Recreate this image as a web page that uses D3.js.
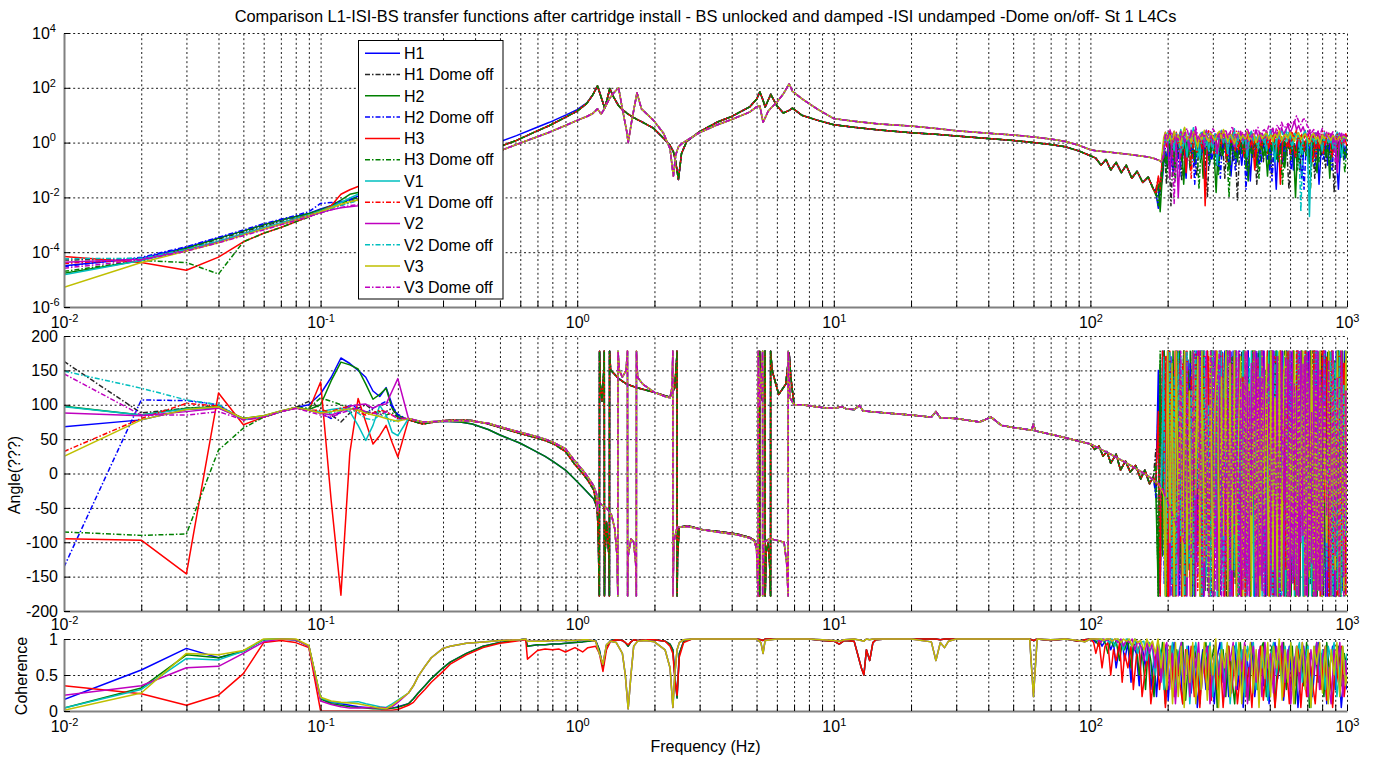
<!DOCTYPE html>
<html>
<head>
<meta charset="utf-8">
<script src="https://cdn.jsdelivr.net/npm/d3@7"></script>
<style>
  body { margin: 0; background: #fff; }
  svg text { font-family: "Liberation Sans", Arial, sans-serif; }
</style>
</head>
<body>
<svg id="chart" width="1378" height="762"></svg>
<script>
// ---------------- series definitions ----------------
const seriesNames  = ["H1","H1 Dome off","H2","H2 Dome off","H3","H3 Dome off","V1","V1 Dome off","V2","V2 Dome off","V3","V3 Dome off"];
const seriesColors = ["#0000ff","#262626","#008000","#0000ff","#ff0000","#008000","#00bfbf","#ff0000","#bf00bf","#00bfbf","#bfbf00","#bf00bf"];
const seriesDomeOff = [false,true,false,true,false,true,false,true,false,true,false,true];

// ---------------- low-frequency points (0.01 .. 0.20 Hz) ----------------
const freqLow = [0.01,0.02,0.03,0.04,0.05,0.06,0.07,0.08,0.09,0.10,0.11,0.12,0.13,0.14,0.15,0.16,0.17,0.18,0.19,0.20];

const magLowH1    = [3.2e-5,6e-5,1.5e-4,3.3e-4,6e-4,1e-3,1.5e-3,2e-3,2.6e-3,3.8e-3,5e-3,6.5e-3,8.5e-3,1.1e-2,1.4e-2,1.8e-2,2.3e-2,3e-2,3.8e-2,4.7e-2];
const magLowH1off = [5.2e-5,5.5e-5,1.3e-4,3e-4,5.5e-4,9e-4,1.3e-3,1.8e-3,2.3e-3,3e-3,4e-3,5.2e-3,6.8e-3,8.8e-3,1.1e-2,1.4e-2,1.7e-2,2.1e-2,2.6e-2,3.3e-2];
const magLowH2    = [1.7e-5,5e-5,1.4e-4,3.2e-4,6e-4,1e-3,1.5e-3,2e-3,2.6e-3,3.5e-3,5e-3,8e-3,1.3e-2,1.5e-2,1.7e-2,1.95e-2,2.2e-2,2.6e-2,3.1e-2,3.7e-2];
const magLowH2off = [3e-5,6.5e-5,1.6e-4,3.5e-4,6.5e-4,1.1e-3,1.6e-3,2.2e-3,3e-3,6e-3,6.5e-3,7e-3,8e-3,9.5e-3,1.15e-2,1.4e-2,1.7e-2,2.1e-2,2.6e-2,3.3e-2];
const magLowH3    = [6.9e-5,4.2e-5,2.2e-5,6.6e-5,2.4e-4,4.9e-4,8e-4,1.3e-3,2e-3,3e-3,5e-3,1.3e-2,1.9e-2,2.5e-2,2.8e-2,3e-2,3.2e-2,3.4e-2,3.7e-2,4e-2];
const magLowH3off = [2e-5,5e-5,4.2e-5,1.6e-5,2.4e-4,4.9e-4,8e-4,1.3e-3,1.9e-3,3e-3,4.5e-3,6e-3,8e-3,1e-2,1.2e-2,1.5e-2,1.8e-2,2.2e-2,2.7e-2,3.3e-2];
const magLowV1    = [1.5e-5,5e-5,1.2e-4,2.5e-4,4.8e-4,8e-4,1.2e-3,1.7e-3,2.3e-3,3.2e-3,4.5e-3,6.5e-3,9.5e-3,1.3e-2,1.45e-2,1.6e-2,1.8e-2,2e-2,2.3e-2,2.6e-2];
const magLowV1off = [3.9e-5,5.5e-5,1.2e-4,2.5e-4,4.5e-4,7.5e-4,1.1e-3,1.6e-3,2.2e-3,3e-3,4e-3,5.2e-3,6.5e-3,8e-3,9.5e-3,1.1e-2,1.3e-2,1.6e-2,1.9e-2,2.3e-2];
const magLowV2    = [4.3e-5,5.5e-5,1.2e-4,2.3e-4,4.3e-4,7e-4,1.05e-3,1.5e-3,2e-3,2.8e-3,3.5e-3,4.2e-3,4.6e-3,5e-3,6e-3,7.5e-3,9.5e-3,1.2e-2,1.6e-2,2e-2];
const magLowV2off = [5.8e-5,6e-5,1.25e-4,2.6e-4,4.6e-4,7.5e-4,1.1e-3,1.55e-3,2.1e-3,2.9e-3,3.9e-3,5e-3,6.3e-3,7.8e-3,9.5e-3,1.15e-2,1.4e-2,1.7e-2,2e-2,2.4e-2];
const magLowV3    = [5.2e-6,4.2e-5,1.1e-4,2.2e-4,4.2e-4,7e-4,1.05e-3,1.5e-3,2.1e-3,3e-3,4.2e-3,5.6e-3,7e-3,8e-3,9e-3,1.05e-2,1.25e-2,1.5e-2,1.8e-2,2.2e-2];
const magLowV3off = [2.6e-5,5.2e-5,1.1e-4,2.2e-4,4e-4,6.5e-4,1e-3,1.45e-3,2e-3,2.7e-3,3.5e-3,4.3e-3,5e-3,5.5e-3,6.5e-3,8e-3,1e-2,1.25e-2,1.6e-2,2e-2];

const phLowH1    = [68,78,93,96,80,83,90,96,100,116,140,168,160,150,140,120,112,125,100,82];
const phLowH1off = [163,88,95,98,79,83,90,96,105,95,85,75,88,95,100,92,85,90,95,80];
const phLowH2    = [98,85,95,97,80,84,91,96,93,100,135,162,158,152,130,108,115,124,95,85];
const phLowH2off = [-136,107,106,100,78,82,90,96,92,88,80,90,100,95,88,95,100,105,98,86];
const phLowH3    = [-95,-97,-146,117,71,82,90,96,92,133,-40,-177,30,109,75,43,55,70,45,24];
const phLowH3off = [-85,-90,-88,34,66,82,90,96,95,110,105,100,95,92,90,88,90,85,88,82];
const phLowV1    = [97,85,94,96,79,83,90,96,92,90,93,95,90,70,48,70,99,85,60,55];
const phLowV1off = [32,80,102,98,78,82,90,95,92,92,90,95,98,90,85,88,92,90,85,80];
const phLowV2    = [88,84,90,95,79,83,90,95,92,88,85,90,98,100,101,95,100,101,120,138];
const phLowV2off = [149,124,107,100,78,83,90,96,92,90,88,92,95,88,80,78,85,82,75,78];
const phLowV3    = [25,78,93,97,80,84,91,96,92,88,90,92,94,92,88,85,83,80,78,76];
const phLowV3off = [145,85,85,90,78,82,90,95,90,85,82,88,92,95,90,88,86,90,85,80];

const cohLowH1 = [0.16,0.57,0.87,0.74,0.83,0.99,1.0,0.99,0.9,0.17,0.12,0.1,0.08,0.06,0.05,0.04,0.03,0.03,0.04,0.06];
const cohLowH2 = [0.04,0.32,0.78,0.74,0.83,0.99,1.0,0.99,0.9,0.17,0.1,0.08,0.06,0.05,0.04,0.03,0.03,0.03,0.04,0.05];
const cohLowH3 = [0.35,0.24,0.08,0.22,0.52,0.95,0.98,0.95,0.88,0.0,0.0,0.0,0.0,0.0,0.0,0.0,0.0,0.01,0.01,0.02];
const cohLowV1 = [0.04,0.3,0.73,0.71,0.83,0.99,1.0,0.99,0.9,0.18,0.13,0.11,0.12,0.13,0.1,0.08,0.06,0.05,0.1,0.15];
const cohLowV2 = [0.22,0.35,0.6,0.62,0.8,0.96,1.0,0.99,0.9,0.14,0.09,0.06,0.04,0.04,0.05,0.04,0.05,0.04,0.06,0.12];
const cohLowV3 = [0.01,0.25,0.8,0.78,0.84,1.0,1.0,1.0,0.91,0.19,0.14,0.12,0.11,0.1,0.08,0.06,0.04,0.03,0.08,0.14];

// ---------------- magnitude, resonance region (0.22 .. 176 Hz) ----------------
const magMidFreq = [0.22,0.25,0.3,0.35,0.4,0.45,0.5,0.58,0.675,0.78,0.91,1.0,1.09,1.15,1.2,1.24,1.28,1.31,1.34,1.38,
  1.45,1.5,1.56,1.58,1.63,1.71,1.78,1.98,2.17,2.3,2.37,2.42,2.48,2.55,2.67,3.0,3.5,4.0,4.7,5.0,
  5.15,5.3,5.4,5.55,5.68,6.0,6.36,6.7,6.9,7.5,8.6,10,12,15,20,25,30,40,50,60,70,80,90,100];
const magMidH = [0.045,0.07,0.13,0.21,0.3,0.48,0.72,1.2,2.3,4.2,8.9,14,27,55,117,45,18,40,95,50,
  22,16,12,11,9,7,5.8,3.4,1.45,0.8,0.47,0.2,0.045,0.4,1.1,2.5,5.5,9,20,38,
  70,35,20,35,58,22,12,15,18,10,6.6,4.5,3.6,2.9,2.3,2.0,1.75,1.4,1.2,1.0,0.85,0.7,0.5,0.33];
const magMidH1Head = [0.06,0.09,0.17,0.28,0.45,0.7,1.07,1.8,3.2,5.5,10.5,16,28];
const magMidV = [0.03,0.045,0.08,0.13,0.2,0.32,0.5,0.85,1.45,2.4,4.4,6.5,9,11.5,17,11,18,28,42,62,
  100,17,2.5,1.0,6,66,17,6.6,2.2,0.6,0.06,0.35,0.7,0.9,1.2,2.3,4.4,7,13,20,
  22,5.5,8,14,18,30,60,140,75,40,17,7.5,6,4.8,4,3.3,2.7,2.2,1.9,1.6,1.35,1.1,0.8,0.55];

const magEndFreq = [105,110,115,120,126,132,138,145,152,160,168,176];
const magEndH = [0.27,0.15,0.24,0.1,0.19,0.08,0.15,0.05,0.09,0.035,0.055,0.02];
const magEndV = [0.5,0.48,0.46,0.44,0.42,0.4,0.38,0.36,0.34,0.32,0.3,0.27];

// ---------------- phase, resonance region ----------------
const phMidFreqH = [0.22,0.25,0.3,0.35,0.39,0.45,0.5,0.6,0.675,0.75,0.81,0.9,0.97,1.05,1.1,1.16,
  1.19,1.2,1.21,1.215,1.22,1.222,1.23,1.25,1.27,1.275,1.277,1.28,1.3,1.33,1.335,1.337,1.35,1.37,1.45,1.56,1.7,2.0,2.3,2.4,
  2.44,2.45,2.452,2.46,2.5,2.7,3.1,3.5,4.2,4.7,4.9,5.0,5.1,5.14,5.142,5.2,5.3,5.38,5.4,5.402,
  5.45,5.55,5.62,5.67,5.672,5.75,6.1,6.5,6.7,6.8,7.0];
const phMidH = [78,72,77,78,77,72,67,58,53,48,43,32,15,0,-10,-24,
  -48,-60,-100,-150,-178,178,130,105,150,178,-178,-130,-70,-120,-178,178,150,148,138,130,125,118,111,125,
  165,178,-178,-120,-78,-76,-82,-84,-88,-93,-97,-105,-140,-178,178,110,105,150,178,-178,
  -115,-100,-130,-178,178,150,115,130,175,140,100];
const phMidH12Head = [78,74,76,75,72,64,56,44,34,25,17,5,-7,-20,-28,-37];

const phMidFreqV = [0.22,0.25,0.3,0.35,0.39,0.45,0.5,0.6,0.675,0.75,0.81,0.9,0.97,1.05,1.1,1.16,
  1.19,1.2,1.21,1.24,1.3,1.36,1.4,1.43,1.44,1.442,1.46,1.5,1.55,1.57,1.572,1.58,1.62,1.66,1.69,1.7,1.702,1.72,1.8,2.0,
  2.2,2.3,2.34,2.36,2.362,2.38,2.45,2.7,3.1,3.5,4.2,4.7,4.9,5.0,5.07,5.072,5.15,5.25,5.28,5.282,
  5.33,5.6,6.0,6.4,6.55,6.64,6.642,6.75,7.0];
const phMidV = [80,75,76,77,76,73,68,60,55,50,45,36,20,5,-5,-18,
  -30,-55,-40,-45,-50,-60,-80,-120,-178,178,150,140,150,178,-178,-120,-95,-100,-130,-178,178,140,130,118,
  112,110,125,178,-178,-100,-78,-77,-82,-85,-89,-94,-98,-110,-178,178,100,160,178,-178,
  -100,-95,-97,-100,-130,-178,178,110,100];

const phTailFreq = [7.5,9,10,10.8,11.2,12,12.6,13,14,16,20,24,25,26,30,37,41,45,50,59,60,61,70,80,90,100];
const phTail     = [100,96,95,97,94,93,99,91,90,88,85,82,90,81,80,75,82,70,67,63,72,62,57,52,47,43];

const phEndFreqH = [104,108,112,116,120,126,131,137,143,150,157,163,170,176];
const phEndH     = [35,40,25,32,15,28,5,18,2,12,-8,5,-15,-5];
const phEndFreqV = [110,120,131,143,157,170,176];
const phEndV     = [35,28,20,12,3,-5,-10];

// ---------------- 180 .. 1000 Hz bins (H sensors and V sensors) ----------------
const fHiH = [180,184,187,191,194,198,202,206,210,214,218,223,227,231,236,240,245,250,255,260,
  265,270,275,280,286,291,297,303,309,315,321,327,334,340,347,353,360,367,374,382,
  389,397,404,412,420,428,437,445,454,463,472,481,490,500,510,519,530,540,550,561,
  572,583,594,606,618,630,642,655,667,680,693,707,721,735,749,764,778,794,809,825,
  841,857,874,891,908,926,944,962,981,1000];
const fHiV = [182,186,189,193,196,200,204,208,212,216,220,225,229,233,238,243,247,252,257,262,
  267,272,278,283,289,294,300,306,312,318,324,330,337,343,350,357,364,371,378,385,
  393,401,408,416,424,433,441,450,458,467,476,486,495,505,514,524,535,545,556,566,
  577,589,600,612,624,636,648,661,674,687,700,714,728,742,756,771,786,801,817,833,
  849,865,882,899,917,935,953,971,990,1000];

// magnitude, 180 .. 1000 Hz
const magHiH1 = [.015,.004,.02,.05,.3,.15,1.2,.6,.08,.9, .4,1.5,.2,.7,.05,1.1,.5,.9,.15,.6,
  1.3,.3,.8,.03,.7,1.0,.25,.5,1.2,.1, .8,.4,1.4,.2,.9,.06,.6,1.1,.35,.7,
  .15,1.0,.5,1.3,.04,.8,.3,1.2,.6,.2, .9,.45,1.5,.1,.7,1.1,.02,.8,.4,1.3,
  .25,.9,.6,1.6,.1,.7,1.2,.3,.05,.9, .5,1.4,.2,.8,.6,1.1,.03,.7,.4,1.0,
  .15,.9,.5,1.2,.3,.02,.7,1.0,.25,.6];
const magHiH1off = [.02,.05,.008,.1,.6,.03,.9,.005,.4,1.2, .2,.8,.04,1.5,.3,.7,.1,1.0,.5,.06,
  .9,.25,1.3,.4,.01,.8,.5,1.1,.15,.7, .3,1.2,.05,.9,.5,1.4,.2,.6,.008,.8,
  1.0,.35,.7,.1,1.3,.5,.9,.03,.6,1.1, .2,.8,.4,1.5,.06,.7,1.0,.3,.9,.15,
  1.2,.5,.02,.8,1.4,.3,.7,.1,1.0,.45, .9,.2,1.3,.6,.05,.8,1.1,.35,.7,.12,
  1.0,.4,.8,.015,.6,1.2,.3,.9,.5,.7];
const magHiH2 = [.012,.03,.003,.08,.5,.2,1.6,.4,.9,.1, 1.3,.5,.8,.03,1.1,.3,1.8,.6,.2,1.0,
  .4,.9,.05,1.4,.7,.25,1.2,.5,.015,.8, 1.5,.35,.9,.6,.1,1.3,.5,.8,.2,1.1,
  .6,1.7,.3,.04,.9,.5,1.2,.15,.8,1.4, .3,.7,.06,1.1,.5,1.6,.25,.9,.4,1.2,
  .12,.8,1.3,.45,.9,.01,.7,1.5,.3,.85, 1.1,.2,.6,1.3,.4,.08,1.0,.55,1.4,.3,
  .8,.05,1.2,.45,.9,.2,1.1,.6,.35,.9];
const magHiH2off = [.018,.01,.04,.2,1.0,.3,.7,.12,1.3,.5, .9,.06,.6,1.4,.25,.8,.4,1.1,.03,.7,
  1.2,.35,.9,.5,1.5,.15,.6,1.0,.3,.8, .05,1.1,.45,.9,.2,1.3,.6,.1,.8,1.2,
  .4,.9,.02,.7,1.4,.3,1.0,.55,.15,1.1, .7,1.3,.25,.85,.04,.6,1.2,.4,.9,.2,
  1.0,.5,1.4,.1,.75,.3,1.1,.6,.9,.02, .7,1.2,.35,.8,.15,1.0,.5,1.3,.25,.7,
  .9,.4,.1,1.1,.6,.8,.3,1.2,.5,.9];
const magHiH3 = [.014,.06,.02,.4,1.5,.7,2.5,1.0,.3,1.8, .9,2.2,.5,1.4,.08,1.1,.6,2.0,.9,.4,
  1.6,.8,2.4,.005,1.2,.7,1.9,.4,1.1,2.3, .6,1.5,.9,.2,1.7,1.0,2.6,.5,1.3,.8,
  1.9,.3,1.1,2.1,.7,1.4,.1,1.0,1.8,.6, 1.3,2.0,.4,1.1,.8,2.2,.5,1.5,.03,1.0,
  1.7,.6,1.2,2.4,.9,.3,1.6,1.0,2.0,.5, 1.3,.8,1.9,.2,1.1,1.5,.6,1.2,.4,1.6,
  .9,1.4,.3,1.0,1.7,.5,1.2,.8,1.5,.7];
const magHiH3off = [.016,.005,.03,.15,.7,.08,1.2,.3,.9,.04, .6,1.1,.2,.8,.5,1.4,.1,.9,.35,1.2,
  .02,.7,1.0,.4,1.3,.15,.8,.5,1.1,.06, .9,.3,1.2,.6,.01,.8,1.0,.25,.7,1.3,
  .4,.9,.1,1.1,.6,.3,1.4,.5,.05,.8, 1.2,.35,.9,.15,1.0,.6,1.3,.2,.7,.03,
  1.1,.5,.8,.25,1.4,.6,.1,.9,.4,1.2, .3,.8,.02,1.0,.5,1.3,.2,.7,.9,.4,
  1.1,.15,.8,.5,1.2,.3,.9,.6,.08,.8];
const magHiV1 = [.24,.22,.2,.5,1.8,.9,2.6,1.2,.5,2.0, 1.0,3.0,.6,1.6,.3,2.2,1.1,3.5,.8,1.5,
  .25,1.9,1.2,2.8,.5,1.4,.9,2.1,.15,1.6, 2.4,1.0,1.7,.4,2.0,1.3,3.2,.7,1.5,2.3,
  .9,1.8,.3,1.2,2.6,1.0,1.6,.6,2.2,1.3, 1.9,.5,1.4,2.7,1.0,.2,1.7,2.4,1.1,1.5,
  3.0,1.2,2.0,.8,1.6,2.5,1.3,.4,1.9,2.8, 1.2,.002,1.5,2.1,.9,1.8,1.3,.5,2.3,1.4,
  1.0,1.9,.6,1.6,2.4,1.1,.3,1.5,1.9,1.1];
const magHiV1off = [.24,.22,.2,.8,2.2,1.3,2.8,.7,1.7,2.4, 1.1,.3,1.9,2.6,1.2,1.6,.05,1.4,2.3,1.0,
  1.8,.6,2.1,1.3,2.7,.9,1.5,2.0,.4,1.7, 2.5,1.1,1.9,.7,2.2,1.4,1.0,2.6,.5,1.6,
  2.0,1.2,.8,2.4,1.5,1.9,.3,1.3,2.1,1.0, 1.7,2.5,.6,1.4,2.0,1.1,2.8,.9,1.6,2.2,
  1.3,1.9,.4,2.3,1.5,3.0,1.1,1.8,.7,2.1, 1.4,2.4,1.0,1.7,.3,2.0,1.3,2.6,.8,1.5,
  2.2,1.1,1.8,.5,2.0,1.3,1.7,1.0,2.1,1.3];
const magHiV2 = [.24,.22,.2,.3,2.4,1.1,.05,1.8,2.6,.9, .01,1.5,2.2,1.0,1.7,.6,2.8,1.3,3.2,1.0,
  1.6,2.3,.7,1.9,1.2,2.5,.9,1.6,.4,2.1, 1.3,2.8,1.0,1.8,2.4,1.2,.7,2.0,1.5,2.6,
  1.1,1.9,.5,1.6,2.3,1.3,2.9,1.7,1.0,2.2, 1.5,2.7,1.2,1.9,3.1,1.6,2.4,1.3,3.6,2.0,
  2.8,4.5,2.2,3.5,6.0,3.0,4.2,2.5,3.8,2.2, 1.8,2.9,1.4,2.3,1.7,2.6,1.2,2.0,1.5,2.4,
  1.3,2.1,.9,1.7,.08,1.4,2.2,1.1,1.6,1.4];
const magHiV2off = [.24,.22,.2,.6,1.9,2.5,1.0,1.7,.6,2.2, 1.3,.4,1.9,3.5,1.1,1.6,.7,2.4,1.0,.3,
  1.8,2.7,1.2,.8,2.1,1.5,.5,2.3,1.3,1.9, 2.8,1.0,1.6,.6,2.2,1.3,1.9,.9,2.5,1.4,
  1.1,2.0,.4,1.7,2.6,1.2,1.8,.7,2.3,1.5, 1.0,2.1,1.6,2.9,1.2,.8,2.0,1.4,2.6,1.7,
  1.1,2.4,1.6,.6,2.2,1.3,1.9,.003,1.5,2.6, 1.2,.8,1.9,1.1,2.3,1.4,.9,1.8,1.2,2.0,
  1.5,1.0,1.9,.5,1.6,2.2,1.1,1.7,1.3,1.5];
const magHiV3 = [.24,.22,.2,1.5,2.4,1.2,1.8,.9,2.6,1.4, 1.9,.8,2.2,3.6,1.3,1.7,1.0,2.5,1.4,.7,
  2.0,1.3,2.8,1.5,1.1,2.3,1.6,1.2,2.0,2.6, 1.4,3.0,1.7,1.1,2.2,1.5,.9,1.8,2.4,1.3,
  1.9,1.4,2.6,1.2,1.7,2.1,1.0,1.6,2.3,1.4, 1.8,2.5,1.3,1.9,1.1,2.2,1.5,2.7,1.2,1.7,
  2.0,1.4,2.4,1.6,1.1,1.9,2.3,1.3,1.7,2.1, 1.5,1.0,1.8,2.2,1.3,1.6,.9,1.9,1.4,2.0,
  1.6,1.2,1.9,1.4,1.1,1.7,1.3,1.8,1.5,1.4];
const magHiV3off = [.24,.22,.2,.4,2.2,1.4,3.0,1.7,.006,2.0, 1.2,2.6,1.5,1.9,3.3,1.3,2.4,1.6,3.8,1.8,
  1.3,2.2,1.5,2.8,1.9,1.4,3.2,2.4,1.6,2.0, 2.6,1.7,3.0,1.5,2.2,4.0,2.0,1.5,2.6,1.9,
  2.4,1.6,3.4,2.0,1.4,2.8,2.2,3.6,1.8,2.5, 3.0,2.2,4.0,2.6,3.4,2.0,4.5,3.0,5.5,3.5,
  3.8,5.0,4.2,6.0,5.5,9.5,6.0,4.5,7.0,7.5, 4.0,3.2,2.3,3.0,1.8,2.6,2.0,3.3,2.5,1.6,
  2.2,1.8,2.5,.2,1.6,2.2,1.4,2.0,1.7,1.4];

// phase, 180 .. 1000 Hz
const phHiH1 = [-20,150,-175,60,178,-130,20,170,-178,110, -60,175,-150,90,-178,165,-20,140,-175,178,
  -100,50,178,-165,130,-178,75,-40,172,-178, 160,-120,178,-60,120,-178,178,-150,40,165,
  -178,100,-90,178,-170,150,-178,30,175,-130, 178,-178,80,160,-100,178,-178,140,-20,170,
  -160,178,-178,60,150,-140,178,-178,110,-70, 175,-178,178,-110,130,-178,90,170,-150,178,
  -178,20,160,-178,178,-60,140,-170,178,-120];
const phHiH1off = [35,-178,150,-90,178,-170,178,-40,130,-178, 178,-120,60,175,-178,100,-150,178,-178,160,
  -30,178,-178,120,-170,70,178,-140,165,-178, 178,-90,140,-178,178,-10,170,-160,110,-178,
  178,-130,80,178,-178,150,-60,175,-178,178, -110,120,-178,178,-170,40,160,-178,178,-140,
  100,178,-178,-50,170,-178,178,-120,150,-178, 60,178,-160,178,-178,130,-90,178,-178,170,
  -30,178,-178,140,-150,178,-178,80,165,-100];
const phHiH2 = [-30,-178,165,-120,178,-178,130,-60,178,-170, 90,178,-178,40,160,-140,178,-178,120,-90,
  178,-178,150,-170,178,-30,140,-178,178,-110, 70,175,-178,178,-150,100,-178,178,-60,170,
  -178,178,-130,150,-178,60,178,-178,178,-160, 120,-178,178,-80,170,-178,178,-140,90,178,
  -178,30,165,-178,178,-120,140,-178,178,-50, 178,-178,110,-170,178,-178,160,-100,178,-178,
  130,-150,178,-178,60,170,-178,178,-130,150];
const phHiH2off = [-35,110,-178,178,-160,70,178,-178,150,-100, 178,-178,120,-150,178,-50,160,-178,178,-130,
  90,178,-178,170,-110,140,-178,178,-20,165, -178,178,-140,100,-178,178,-170,130,-70,178,
  -178,150,-178,178,-90,160,-178,178,-150,60, 178,-178,140,-120,178,-178,80,170,-178,178,
  -100,150,-178,178,-160,110,-178,178,-40,170, -178,178,-130,120,-178,178,-170,90,178,-178,
  160,-110,178,-178,130,-178,178,-80,150,-178];
const phHiH3 = [-15,90,-178,178,-80,170,-178,140,-178,178, -120,160,-178,178,-40,150,-178,178,-160,110,
  178,-178,170,-90,178,-178,130,-150,178,-178, 60,175,-178,178,-130,160,-178,178,-20,140,
  -178,178,-170,120,-178,178,-100,165,-178,178, -140,90,178,-178,178,-60,150,-178,178,-170,
  130,-178,178,-110,170,-178,178,-140,100,-178, 178,-60,160,-178,178,-150,120,-178,178,-90,
  170,-178,178,-130,140,-178,178,-40,160,-178];
const phHiH3off = [15,-178,178,-110,130,-178,178,-50,165,-178, 178,-140,80,178,-178,150,-120,178,-178,40,
  170,-178,178,-160,100,-178,178,-90,150,-178, 178,-130,60,178,-178,170,-150,178,-178,120,
  -70,178,-178,140,-178,178,-110,160,-178,178, -30,150,-178,178,-170,90,178,-178,130,-140,
  178,-178,170,-80,178,-178,150,-120,178,-178, 100,-160,178,-178,140,-50,178,-178,170,-130,
  178,-178,60,165,-178,178,-140,120,-178,178];
const phHiV1 = [-14,-18,-22,160,-178,178,-120,140,-178,178, -90,170,-178,178,-150,110,-178,178,-60,160,
  -178,178,-170,130,-178,178,-100,150,-178,178, -140,80,178,-178,170,-120,178,-178,140,-30,
  178,-178,160,-160,178,-178,100,-130,178,-178, 150,-80,178,-178,130,-170,178,-178,60,170,
  -178,178,-140,120,-178,178,-110,160,-178,178, -60,140,-178,178,-170,100,178,-178,150,-120,
  178,-178,170,-90,178,-178,130,-160,178,-178];
const phHiV1off = [-15,-19,-24,-30,170,-178,178,-140,130,-178, 178,-100,160,-178,178,-60,140,-178,178,-170,
  110,-178,178,-130,170,-178,178,-90,150,-178, 178,-160,120,-178,178,-40,165,-178,178,-120,
  140,-178,178,-170,90,178,-178,160,-150,178, -178,130,-100,178,-178,170,-60,178,-178,150,
  -140,178,-178,110,-170,178,-178,140,-80,178, -178,160,-130,178,-178,120,-178,178,-40,170,
  -178,178,-150,100,-178,178,-110,160,-178,178];
const phHiV2 = [-13,-17,-21,-26,-32,178,-178,150,-90,178, -178,130,-160,178,-178,110,-50,170,-178,178,
  -140,160,-178,178,-100,140,-178,178,-170,90, 178,-178,150,-120,178,-178,170,-70,178,-178,
  130,-150,178,-178,160,-30,178,-178,140,-170, 178,-178,100,-110,178,-178,170,-140,178,-178,
  60,165,-178,178,-150,120,-178,178,-90,170, -178,178,-130,150,-178,178,-170,80,178,-178,
  140,-100,178,-178,160,-150,178,-178,120,-60];
const phHiV2off = [-12,-16,-20,170,-178,-40,178,-160,140,-178, 178,-90,150,-178,178,-130,120,-178,178,-20,
  165,-178,178,-150,100,-178,178,-110,160,-178, 178,-170,70,178,-178,140,-140,178,-178,130,
  -60,178,-178,170,-120,178,-178,110,-170,178, -178,150,-80,178,-178,160,-150,178,-178,90,
  170,-178,178,-130,140,-178,178,-40,165,-178, 178,-160,120,-178,178,-100,150,-178,178,-140,
  80,178,-178,160,-170,178,-178,130,-90,178];
const phHiV3 = [-13,-18,-24,-30,-178,178,-100,160,-178,178, -60,140,-178,178,-150,120,-178,178,-30,170,
  -178,178,-130,150,-178,178,-170,100,178,-178, 140,-90,178,-178,160,-140,178,-178,60,170,
  -178,178,-120,130,-178,178,-160,150,-178,178, -80,170,-178,178,-140,110,-178,178,-170,140,
  178,-178,90,-120,178,-178,160,-60,178,-178, 150,-150,178,-178,120,-170,178,-178,100,-100,
  178,-178,165,-140,178,-178,140,-170,178,-178];
const phHiV3off = [-12,-16,-21,-27,-34,-42,-50,-58,-66,-75, -84,178,-93,-102,160,-112,-122,178,-133,-145,
  178,-157,-168,170,-178,178,150,-178,130,178, -178,110,-140,178,-178,160,-90,178,-178,140,
  -170,178,-178,120,-60,178,-178,170,-150,178, -178,100,160,-178,178,-130,150,-178,178,-40,
  170,-178,178,-160,130,-178,178,-100,160,-178, 178,-140,90,-178,178,-170,150,-178,178,-60,
  165,-178,178,-120,140,-178,178,-150,120,-178];

// ---------------- coherence ----------------
const cohMidFreq = [0.22,0.23,0.24,0.255,0.27,0.3,0.32,0.37,0.43,0.5,0.6,0.63,0.64,0.7,0.75,0.8,0.85,0.9,0.98,1.05,
  1.1,1.18,1.22,1.26,1.3,1.35,1.42,1.5,1.54,1.58,1.62,1.66,1.72,1.85,2.0,2.2,2.3,2.36,2.4,2.45,2.5,2.6,2.8];
const cohMidH12 = [0.1,0.17,0.25,0.35,0.45,0.6,0.68,0.8,0.9,0.95,0.99,1.0,0.9,0.92,0.92,0.93,0.93,0.94,0.95,0.96,
  0.97,0.98,0.85,0.6,0.9,0.98,0.99,0.98,0.95,0.9,0.96,0.99,0.98,0.99,0.99,0.97,0.93,0.85,0.5,0.18,0.8,0.97,1.0];
const cohMidH3 = [0.08,0.12,0.2,0.3,0.4,0.55,0.65,0.78,0.88,0.94,0.98,0.99,0.72,0.84,0.86,0.85,0.86,0.82,0.88,0.82,
  0.88,0.9,0.8,0.55,0.85,0.97,0.99,0.98,0.95,0.92,0.96,0.99,0.98,0.99,0.99,0.97,0.9,0.8,0.45,0.22,0.75,0.95,1.0];
const cohMidV = [0.25,0.35,0.48,0.62,0.74,0.87,0.9,0.94,0.96,0.98,0.99,1.0,0.97,0.97,0.97,0.98,0.98,0.98,0.98,0.99,
  0.99,0.97,0.8,0.65,0.92,0.97,0.95,0.8,0.5,0.03,0.5,0.9,0.97,0.98,0.96,0.85,0.6,0.05,0.5,0.85,0.95,0.99,1.0];

const cohTailFreq = [3,4,5,5.2,5.3,5.4,6,7,8,9,10,10.5,11,12,12.8,13.1,13.4,13.8,14.2,14.6,16,20,24,25,26,27,28,30,40,50,58,60,62,70,80,90,95,100];
const cohTailH = [1,1,1,0.99,0.98,1,1,1,1,0.98,0.97,0.93,0.98,0.97,0.6,0.5,0.85,0.7,0.95,0.99,1,1,1,1,0.99,1,1,1,1,1,1,0.98,1,0.98,1,0.97,0.99,1];
const cohTailV = [1,1,1,0.95,0.8,0.98,1,1,1,0.99,0.98,0.97,0.99,1,0.98,0.97,1,0.99,1,1,1,1,0.96,0.7,0.95,0.88,0.97,1,1,1,1,0.2,1,0.99,1,0.98,0.96,1];

// 100 .. 1000 Hz coherence bins (H sensors and V sensors)
const fCohHiH = [100,103,105,108,111,114,117,120,123,126,130,133,136,140,144,147,151,155,159,164,
  168,172,177,181,186,191,196,201,206,212,217,223,229,235,241,247,254,261,267,274,
  282,289,296,304,312,320,329,337,346,355,365,374,384,394,404,415,426,437,448,460,
  472,485,497,510,524,537,552,566,581,596,612,628,644,661,678,696,714,733,752,772,
  792,813,834,856,879,902,925,950,975,1000];
const fCohHiV = [101.5,104,106.5,109.5,112.5,115.5,118.5,121.5,124.5,128,131.5,134.5,138,142,145.5,149,153,157,161.5,166,
  170,174.5,179,183.5,188.5,193.5,198.5,203.5,209,214.5,220,226,232,238,244,250.5,257.5,264,270.5,278,
  285.5,292.5,300,308,316,324.5,333,341.5,350.5,360,369.5,379,389,399,409.5,420.5,431.5,442.5,454,466,
  478.5,491,503.5,517,530.5,544.5,559,573.5,588.5,604,620,636,652.5,669.5,687,705,723.5,742.5,762,782,
  802.5,823.5,845,867.5,890.5,913.5,937.5,962.5,987.5,1000];
const cohHiH1 = [1,.98,.95,1,.9,.97,1,.85,.95,.6, .9,.98,.7,.95,.4,.9,.8,.35,.9,.6,
  .95,.3,.75,.2,.85,.5,.9,.15,.7,.95, .4,.8,.1,.6,.9,.25,.7,.05,.5,.85,
  .3,.9,.6,.1,.75,.95,.4,.8,.2,.65, .9,.3,.7,.05,.85,.5,.95,.2,.6,.9,
  .35,.8,.1,.7,.95,.45,.85,.15,.6,.9, .3,.75,.05,.55,.9,.4,.8,.2,.7,.95,
  .5,.85,.1,.6,.9,.3,.75,.05,.5,.3];
const cohHiH2 = [1,1,.97,.9,1,.95,.8,1,.9,.97, .7,.95,.85,1,.6,.9,.95,.5,.85,.3,
  .9,.7,.2,.8,.5,.95,.1,.7,.9,.3, .85,.5,.95,.15,.7,.4,.9,.6,.1,.8,
  .95,.3,.7,.9,.05,.6,.85,.2,.9,.5, .1,.8,.95,.4,.7,.15,.9,.6,.3,.85,
  .95,.2,.6,.9,.05,.75,.5,.95,.3,.7, .9,.1,.65,.85,.35,.95,.05,.6,.9,.4,
  .8,.2,.95,.5,.1,.7,.9,.35,.8,.6];
const cohHiH3 = [1,.95,.8,.97,.6,.9,.95,.5,.85,.7, .95,.4,.8,.6,.9,.3,.75,.9,.2,.6,
  .8,.1,.5,.85,.3,.7,.05,.6,.9,.2, .75,.4,.1,.85,.5,.9,.2,.6,.05,.7,
  .4,.85,.15,.6,.3,.8,.05,.55,.9,.25, .7,.1,.5,.85,.2,.6,.05,.75,.4,.9,
  .15,.6,.3,.8,.05,.5,.9,.2,.65,.1, .75,.35,.9,.05,.6,.2,.8,.4,.1,.7,
  .3,.85,.15,.6,.05,.75,.4,.9,.2,.6];
const cohHiV1 = [1,1,.98,1,.97,1,.95,1,.9,1, .97,.85,1,.95,.9,1,.8,.95,.97,.7,
  .95,.85,.5,.95,.8,.3,.9,.7,.95,.2, .8,.95,.5,.9,.1,.7,.95,.6,.3,.9,
  .75,.95,.2,.85,.6,.95,.4,.8,.1,.7, .95,.5,.85,.2,.9,.7,.95,.3,.8,.6,
  .9,.15,.7,.95,.5,.85,.3,.9,.6,.95, .2,.8,.95,.4,.7,.9,.05,.75,.95,.5,
  .85,.3,.9,.7,.95,.2,.6,.9,.4,.8];
const cohHiV2 = [1,1,1,.95,1,.98,1,.97,1,.95, 1,.9,.98,.95,1,.85,.97,.9,.7,.95,
  .8,.95,.6,.9,.4,.85,.95,.3,.8,.1, .7,.95,.4,.85,.2,.9,.6,.95,.3,.75,
  .9,.1,.6,.95,.5,.8,.2,.9,.7,.95, .3,.8,.55,.95,.1,.7,.9,.4,.85,.2,
  .95,.6,.8,.25,.9,.7,.95,.4,.85,.1, .6,.9,.3,.95,.7,.2,.85,.5,.95,.3,
  .75,.9,.4,.1,.85,.6,.95,.2,.7,.4];
const cohHiV3 = [1,1,1,1,.98,1,1,.97,1,1, .95,1,.97,1,.9,1,.95,.98,.85,1,
  .9,.97,.8,1,.6,.95,.3,.9,.1,.95, .2,.9,.05,.85,.4,.95,.1,.8,.3,.95,
  .15,.9,.5,1,.05,.85,.6,.95,.2,.9, .35,.95,.1,.9,.7,.95,.25,.85,.05,.9,
  .45,.95,.2,.9,.6,1,.15,.85,.4,.95, .1,.9,.55,.95,.3,.85,.05,.9,.65,.95,
  .25,.9,.1,.85,.5,.95,.2,.9,.35,.5];

// ---------------- axis ticks ----------------
const xDecades = [0.01,0.1,1,10,100,1000];
const magTicks = [1e-6,1e-4,1e-2,1,1e2,1e4];
const phTicks = [-200,-150,-100,-50,0,50,100,150,200];
const cohTicks = [0,0.5,1];

// ---------------- assemble series ----------------
const magLow = [magLowH1,magLowH1off,magLowH2,magLowH2off,magLowH3,magLowH3off,magLowV1,magLowV1off,magLowV2,magLowV2off,magLowV3,magLowV3off];
const magHi  = [magHiH1,magHiH1off,magHiH2,magHiH2off,magHiH3,magHiH3off,magHiV1,magHiV1off,magHiV2,magHiV2off,magHiV3,magHiV3off];
const phLow  = [phLowH1,phLowH1off,phLowH2,phLowH2off,phLowH3,phLowH3off,phLowV1,phLowV1off,phLowV2,phLowV2off,phLowV3,phLowV3off];
const phHi   = [phHiH1,phHiH1off,phHiH2,phHiH2off,phHiH3,phHiH3off,phHiV1,phHiV1off,phHiV2,phHiV2off,phHiV3,phHiV3off];
const cohLow = [cohLowH1,cohLowH2,cohLowH3,cohLowV1,cohLowV2,cohLowV3];
const cohHi  = [cohHiH1,cohHiH2,cohHiH3,cohHiV1,cohHiV2,cohHiV3];
const cohColors = ["#0000ff","#008000","#ff0000","#00bfbf","#bf00bf","#bfbf00"];

function pairs(fs, vs) {
  const n = Math.min(fs.length, vs.length), out = [];
  for (let i = 0; i < n; i++) out.push([fs[i], vs[i]]);
  return out;
}

const magSeries = seriesNames.map((name, i) => {
  const isH = i < 6;
  let mid = isH ? magMidH : magMidV;
  if (i === 0) mid = magMidH1Head.concat(magMidH.slice(magMidH1Head.length));
  return pairs(freqLow, magLow[i])
    .concat(pairs(magMidFreq, mid))
    .concat(pairs(magEndFreq, isH ? magEndH : magEndV))
    .concat(pairs(isH ? fHiH : fHiV, magHi[i]));
});

const phSeries = seriesNames.map((name, i) => {
  const isH = i < 6;
  let mid;
  if (isH) {
    const vals = (i === 0 || i === 2) ? phMidH12Head.concat(phMidH.slice(phMidH12Head.length)) : phMidH;
    mid = pairs(phMidFreqH, vals);
  } else {
    mid = pairs(phMidFreqV, phMidV);
  }
  return pairs(freqLow, phLow[i])
    .concat(mid)
    .concat(pairs(phTailFreq, phTail))
    .concat(isH ? pairs(phEndFreqH, phEndH) : pairs(phEndFreqV, phEndV))
    .concat(pairs(isH ? fHiH : fHiV, phHi[i]));
});

const cohSeries = cohColors.map((c, j) => {
  const isH = j < 3;
  const mid = j < 2 ? cohMidH12 : (j === 2 ? cohMidH3 : cohMidV);
  return pairs(freqLow, cohLow[j])
    .concat(pairs(cohMidFreq, mid))
    .concat(pairs(cohTailFreq, isH ? cohTailH : cohTailV))
    .concat(pairs(isH ? fCohHiH : fCohHiV, cohHi[j]));
});

// ---------------- drawing ----------------
const FONT = '"Liberation Sans", Arial, sans-serif';
const svg = d3.select("#chart");
const X0 = 64, X1 = 1347;
const x = d3.scaleLog().domain([0.01, 1000]).range([X0, X1]);

const panels = [
  { id: "mag", top: 33,  bot: 307, pad: 10, y: d3.scaleLog().domain([1e-6, 1e4]).range([307, 33]),
    grid: [1e-4, 1e-2, 1, 1e2, 1e4], ticks: magTicks, log: true },
  { id: "ph",  top: 336, bot: 611, pad: 8, y: d3.scaleLinear().domain([-200, 200]).range([611, 336]),
    grid: [-150, -100, -50, 0, 50, 100, 150, 200], ticks: phTicks, log: false },
  { id: "coh", top: 639, bot: 711, pad: 10, y: d3.scaleLinear().domain([0, 1]).range([711, 639]),
    grid: [0.5, 1], ticks: cohTicks, log: false }
];

const xTickVals = [];
xDecades.slice(0, 5).forEach(d => { for (let k = 1; k < 10; k++) xTickVals.push(d * k); });
xTickVals.push(1000);

function isDecade(v) { const l = Math.log10(v); return Math.abs(l - Math.round(l)) < 1e-6; }
function supLabel(sel, exp) {
  sel.text("10");
  sel.append("tspan").attr("dy", "-0.62em").attr("font-size", "11px").text(exp);
}

const defs = svg.append("defs");
panels.forEach(p => {
  defs.append("clipPath").attr("id", "clip-" + p.id)
    .append("rect").attr("x", X0).attr("y", p.top - 1).attr("width", X1 - X0).attr("height", p.bot - p.top + 2);

  // dotted grid
  const gxg = svg.append("g").attr("transform", `translate(0,${p.bot})`)
    .call(d3.axisBottom(x).tickValues(xTickVals.slice(1)).tickSize(-(p.bot - p.top)).tickFormat(""));
  gxg.select(".domain").remove();
  gxg.selectAll("line").attr("stroke", "#1a1a1a").attr("stroke-dasharray", "2,2.6").attr("stroke-width", 1);
  const gyg = svg.append("g").attr("transform", `translate(${X0},0)`)
    .call(d3.axisLeft(p.y).tickValues(p.grid).tickSize(-(X1 - X0)).tickFormat(""));
  gyg.select(".domain").remove();
  gyg.selectAll("line").attr("stroke", "#1a1a1a").attr("stroke-dasharray", "2,2.6").attr("stroke-width", 1);
});

const dashDot = "5,2,1.5,2";

function drawLines(p, data, colors, dashes) {
  const line = d3.line().x(d => x(d[0])).y(d => p.y(d[1]));
  const g = svg.append("g").attr("clip-path", `url(#clip-${p.id})`);
  data.forEach((s, i) => {
    g.append("path")
      .attr("d", line(s))
      .attr("fill", "none")
      .attr("stroke", colors[i])
      .attr("stroke-width", 1.5)
      .attr("stroke-linejoin", "round")
      .attr("stroke-dasharray", dashes[i] ? dashDot : null);
  });
}

drawLines(panels[0], magSeries, seriesColors, seriesDomeOff);
drawLines(panels[1], phSeries, seriesColors, seriesDomeOff);
drawLines(panels[2], cohSeries, cohColors, cohColors.map(() => false));

// axes
panels.forEach(p => {
  const ax = svg.append("g").attr("transform", `translate(0,${p.bot})`)
    .call(d3.axisBottom(x).tickValues(xTickVals).tickSize(-6).tickSizeOuter(0).tickPadding(p.pad).tickFormat(""));
  ax.attr("font-size", 16).attr("font-family", FONT);
  ax.select(".domain").attr("stroke", "#808080").attr("stroke-width", 2);
  ax.selectAll(".tick line").attr("stroke", "#000");
  ax.selectAll(".tick text").attr("fill", "#000").each(function (d) {
    if (isDecade(d)) supLabel(d3.select(this), String(Math.round(Math.log10(d))));
  });

  const ay = svg.append("g").attr("transform", `translate(${X0},0)`)
    .call(d3.axisLeft(p.y).tickValues(p.ticks).tickSize(-6).tickSizeOuter(0).tickPadding(6)
      .tickFormat(p.log ? (() => "") : (d => String(d))));
  ay.attr("font-size", 16).attr("font-family", FONT);
  ay.select(".domain").attr("stroke", "#808080").attr("stroke-width", 2);
  ay.selectAll(".tick line").attr("stroke", "#000");
  ay.selectAll(".tick text").attr("fill", "#000");
  if (p.log) {
    ay.selectAll(".tick text").attr("x", -32).attr("text-anchor", "start").each(function (d) {
      supLabel(d3.select(this), String(Math.round(Math.log10(d))));
    });
  }
});

// titles and labels
svg.append("text").attr("x", 705.5).attr("y", 22).attr("text-anchor", "middle")
  .attr("font-size", 16.4).attr("fill", "#000")
  .text("Comparison L1-ISI-BS transfer functions after cartridge install - BS unlocked and damped -ISI undamped -Dome on/off- St 1 L4Cs");
svg.append("text").attr("transform", "translate(19.5,475) rotate(-90)").attr("text-anchor", "middle")
  .attr("font-size", 16).attr("fill", "#000").text("Angle(???)");
svg.append("text").attr("transform", "translate(27,676) rotate(-90)").attr("text-anchor", "middle")
  .attr("font-size", 16).attr("fill", "#000").text("Coherence");
svg.append("text").attr("x", 705.5).attr("y", 752).attr("text-anchor", "middle")
  .attr("font-size", 16).attr("fill", "#000").text("Frequency (Hz)");

// legend
const lg = svg.append("g");
lg.append("rect").attr("x", 358.5).attr("y", 40.5).attr("width", 144.5).attr("height", 258.5)
  .attr("fill", "#fff").attr("stroke", "#000").attr("stroke-width", 1);
seriesNames.forEach((name, i) => {
  const yy = 53.3 + i * 21.27;
  lg.append("line").attr("x1", 365).attr("x2", 400).attr("y1", yy).attr("y2", yy)
    .attr("stroke", seriesColors[i]).attr("stroke-width", 1.5)
    .attr("stroke-dasharray", seriesDomeOff[i] ? dashDot : null);
  lg.append("text").attr("x", 404).attr("y", yy + 5.8).attr("font-size", 16).attr("fill", "#000").text(name);
});
</script>
</body>
</html>
